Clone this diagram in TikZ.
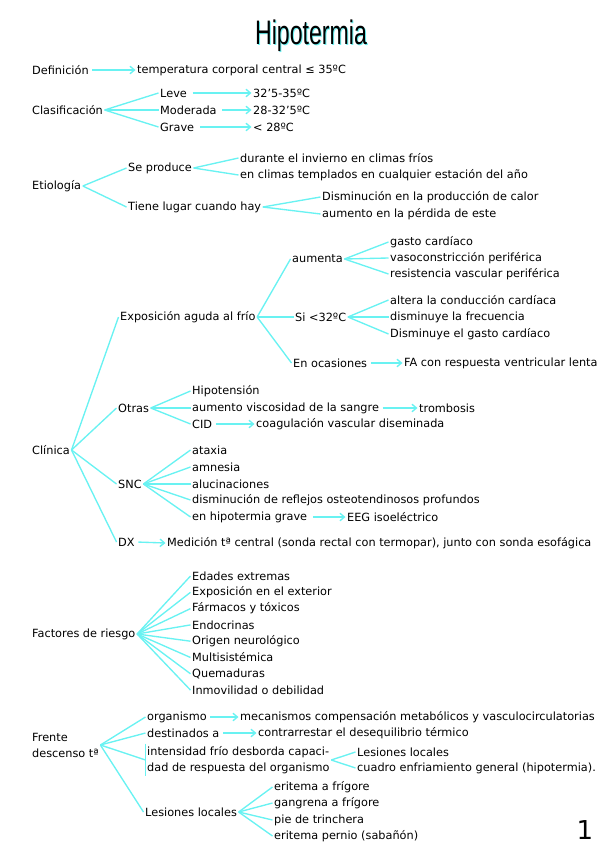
\documentclass[tikz,border=0pt]{standalone}
\usepackage{fontspec}
\setmainfont{DejaVu Sans}
\newfontfamily\titlefont{Liberation Sans}
\usetikzlibrary{arrows.meta}
\definecolor{cyanl}{RGB}{105,242,242}
\begin{document}
\begin{tikzpicture}[x=1pt,y=-1pt,
  txt/.style={anchor=west,inner sep=1.5pt,font=\fontsize{11.3}{16}\selectfont},
  cy/.style={draw=cyanl,line width=1.35pt},
  arr/.style={cy,-{Straight Barb[length=4.5pt,width=7.5pt]},shorten <=2pt}]
\useasboundingbox (0,0) rectangle (599,848);
% title
\node[text=cyanl] (titles) at (312,37) {\titlefont\scalebox{0.68}[1]{\fontsize{34}{34}\selectfont Hipotermia}};
\node (title) at (311,36) {\titlefont\scalebox{0.68}[1]{\fontsize{34}{34}\selectfont Hipotermia}};
% definicion
\node[txt] (def) at (30.5,70) {Definición};
\node[txt] (defv) at (135.5,70) {temperatura corporal central ≤ 35ºC};
\draw[arr] (def.east) -- (defv.west);
% clasificacion
\node[txt] (clas) at (30.5,110) {Clasificación};
\node[txt] (leve) at (158.5,93) {Leve};
\node[txt] (mod) at (158.5,110) {Moderada};
\node[txt] (grave) at (158.5,127) {Grave};
\node[txt] (v1) at (251.5,93) {32'5-35ºC};
\node[txt] (v2) at (251.5,110) {28-32'5ºC};
\node[txt] (v3) at (251.5,127) {< 28ºC};
\foreach \n in {leve,mod,grave} \draw[cy] (clas.east) -- (\n.west);
\draw[arr,shorten <=4pt] (leve.east) -- (v1.west);
\draw[arr,shorten <=4pt] (mod.east) -- (v2.west);
\draw[arr,shorten <=4pt] (grave.east) -- (v3.west);
% etiologia
\node[txt] (etio) at (30.5,186) {Etiología};
\node[txt] (sep) at (126.5,168) {Se produce};
\node[txt] (tiene) at (126.5,207) {Tiene lugar cuando hay};
\node[txt] (d1) at (238.5,158) {durante el invierno en climas fríos};
\node[txt] (d2) at (238.5,175) {en climas templados en cualquier estación del año};
\node[txt] (t1) at (320.5,197) {Disminución en la producción de calor};
\node[txt] (t2) at (320.5,214) {aumento en la pérdida de este};
\draw[cy] (etio.east) -- (sep.west);
\draw[cy] (etio.east) -- (tiene.west);
\draw[cy] (sep.east) -- (d1.west);
\draw[cy] (sep.east) -- (d2.west);
\draw[cy] (tiene.east) -- (t1.west);
\draw[cy] (tiene.east) -- (t2.west);
% clinica
\node[txt] (clin) at (30.5,450) {Clínica};
\node[txt] (expo) at (118.5,317) {Exposición aguda al frío};
\node[txt] (aum) at (290.5,259) {aumenta};
\node[txt] (g1) at (388.5,242) {gasto cardíaco};
\node[txt] (g2) at (388.5,258) {vasoconstricción periférica};
\node[txt] (g3) at (388.5,274) {resistencia vascular periférica};
\node[txt] (si) at (293.5,317) {Si <32ºC};
\node[txt] (s1) at (388.5,300) {altera la conducción cardíaca};
\node[txt] (s2) at (388.5,317) {disminuye la frecuencia};
\node[txt] (s3) at (388.5,334) {Disminuye el gasto cardíaco};
\node[txt] (ocas) at (291.5,363) {En ocasiones};
\node[txt] (fa) at (402.5,363) {FA con respuesta ventricular lenta};
\draw[cy] (clin.east) -- (expo.west);
\draw[cy] (expo.east) -- (aum.west);
\draw[cy] (expo.east) -- (si.west);
\draw[cy] (expo.east) -- (ocas.west);
\foreach \n in {g1,g2,g3} \draw[cy] (aum.east) -- (\n.west);
\foreach \n in {s1,s2,s3} \draw[cy] (si.east) -- (\n.west);
\draw[arr] (ocas.east) -- (fa.west);
\node[txt] (otras) at (116.5,408) {Otras};
\node[txt] (o1) at (190.5,391) {Hipotensión};
\node[txt] (o2) at (190.5,408) {aumento viscosidad de la sangre};
\node[txt] (trom) at (417.5,408) {trombosis};
\node[txt] (o3) at (190.5,424) {CID};
\node[txt] (coag) at (254.5,424) {coagulación vascular diseminada};
\draw[cy] (clin.east) -- (otras.west);
\foreach \n in {o1,o2,o3} \draw[cy] (otras.east) -- (\n.west);
\draw[arr] (o2.east) -- (trom.west);
\draw[arr] (o3.east) -- (coag.west);
\node[txt] (snc) at (116.5,484) {SNC};
\node[txt] (n1) at (190.5,450) {ataxia};
\node[txt] (n2) at (190.5,467) {amnesia};
\node[txt] (n3) at (190.5,484) {alucinaciones};
\node[txt] (n4) at (190.5,500) {disminución de reflejos osteotendinosos profundos};
\node[txt] (n5) at (190.5,517) {en hipotermia grave};
\node[txt] (eeg) at (345.5,517) {EEG isoeléctrico};
\draw[cy] (clin.east) -- (snc.west);
\foreach \n in {n1,n2,n3,n4,n5} \draw[cy] (snc.east) -- (\n.west);
\draw[arr,shorten <=4pt] (n5.east) -- (eeg.west);
\node[txt] (dx) at (116.5,542) {DX};
\node[txt] (med) at (165.5,543) {Medición tª central (sonda rectal con termopar), junto con sonda esofágica};
\draw[cy] (clin.east) -- (dx.west);
\draw[arr] (dx.east) -- (med.west);
% factores de riesgo
\node[txt] (fac) at (30.5,634) {Factores de riesgo};
\node[txt] (f1) at (190.5,576) {Edades extremas};
\node[txt] (f2) at (190.5,592.3) {Exposición en el exterior};
\node[txt] (f3) at (190.5,608.6) {Fármacos y tóxicos};
\node[txt] (f4) at (190.5,624.9) {Endocrinas};
\node[txt] (f5) at (190.5,641.2) {Origen neurológico};
\node[txt] (f6) at (190.5,657.5) {Multisistémica};
\node[txt] (f7) at (190.5,673.8) {Quemaduras};
\node[txt] (f8) at (190.5,690.1) {Inmovilidad o debilidad};
\foreach \n in {f1,f2,f3,f4,f5,f6,f7,f8} \draw[cy] (fac.east) -- (\n.west);
% frente descenso
\node[txt,align=left] (fre) at (30.5,745) {Frente\\descenso tª};
\node[txt] (org) at (145.5,717) {organismo};
\node[txt] (mec) at (238.5,717) {mecanismos compensación metabólicos y vasculocirculatorias};
\node[txt] (dest) at (145.5,733) {destinados a};
\node[txt] (contra) at (256.5,733) {contrarrestar el desequilibrio térmico};
\node[txt,align=left] (int) at (145.5,760) {intensidad frío desborda capaci-\\dad de respuesta del organismo};
\node[txt] (ll1) at (355.5,752) {Lesiones locales};
\node[txt] (cuad) at (355.5,768) {cuadro enfriamiento general (hipotermia).};
\node[txt] (les) at (143.5,812) {Lesiones locales};
\node[txt] (e1) at (272.5,787) {eritema a frígore};
\node[txt] (e2) at (272.5,803) {gangrena a frígore};
\node[txt] (e3) at (272.5,820) {pie de trinchera};
\node[txt] (e4) at (272.5,836) {eritema pernio (sabañón)};
\draw[cy] (fre.east) -- (org.west);
\draw[cy] (fre.east) -- (dest.west);
\draw[cy] (fre.east) -- (int.west);
\draw[cy] (fre.east) -- (les.west);
\draw[cy] ([yshift=1pt]int.north west) -- ([yshift=-1pt]int.south west);
\draw[arr] (org.east) -- (mec.west);
\draw[arr] (dest.east) -- (contra.west);
\draw[cy] (int.east) -- (ll1.west);
\draw[cy] (int.east) -- (cuad.west);
\foreach \n in {e1,e2,e3,e4} \draw[cy] (les.east) -- (\n.west);
% page number
\node (pg) at (585,830) {\fontsize{26}{26}\selectfont 1};
\end{tikzpicture}
\end{document}
